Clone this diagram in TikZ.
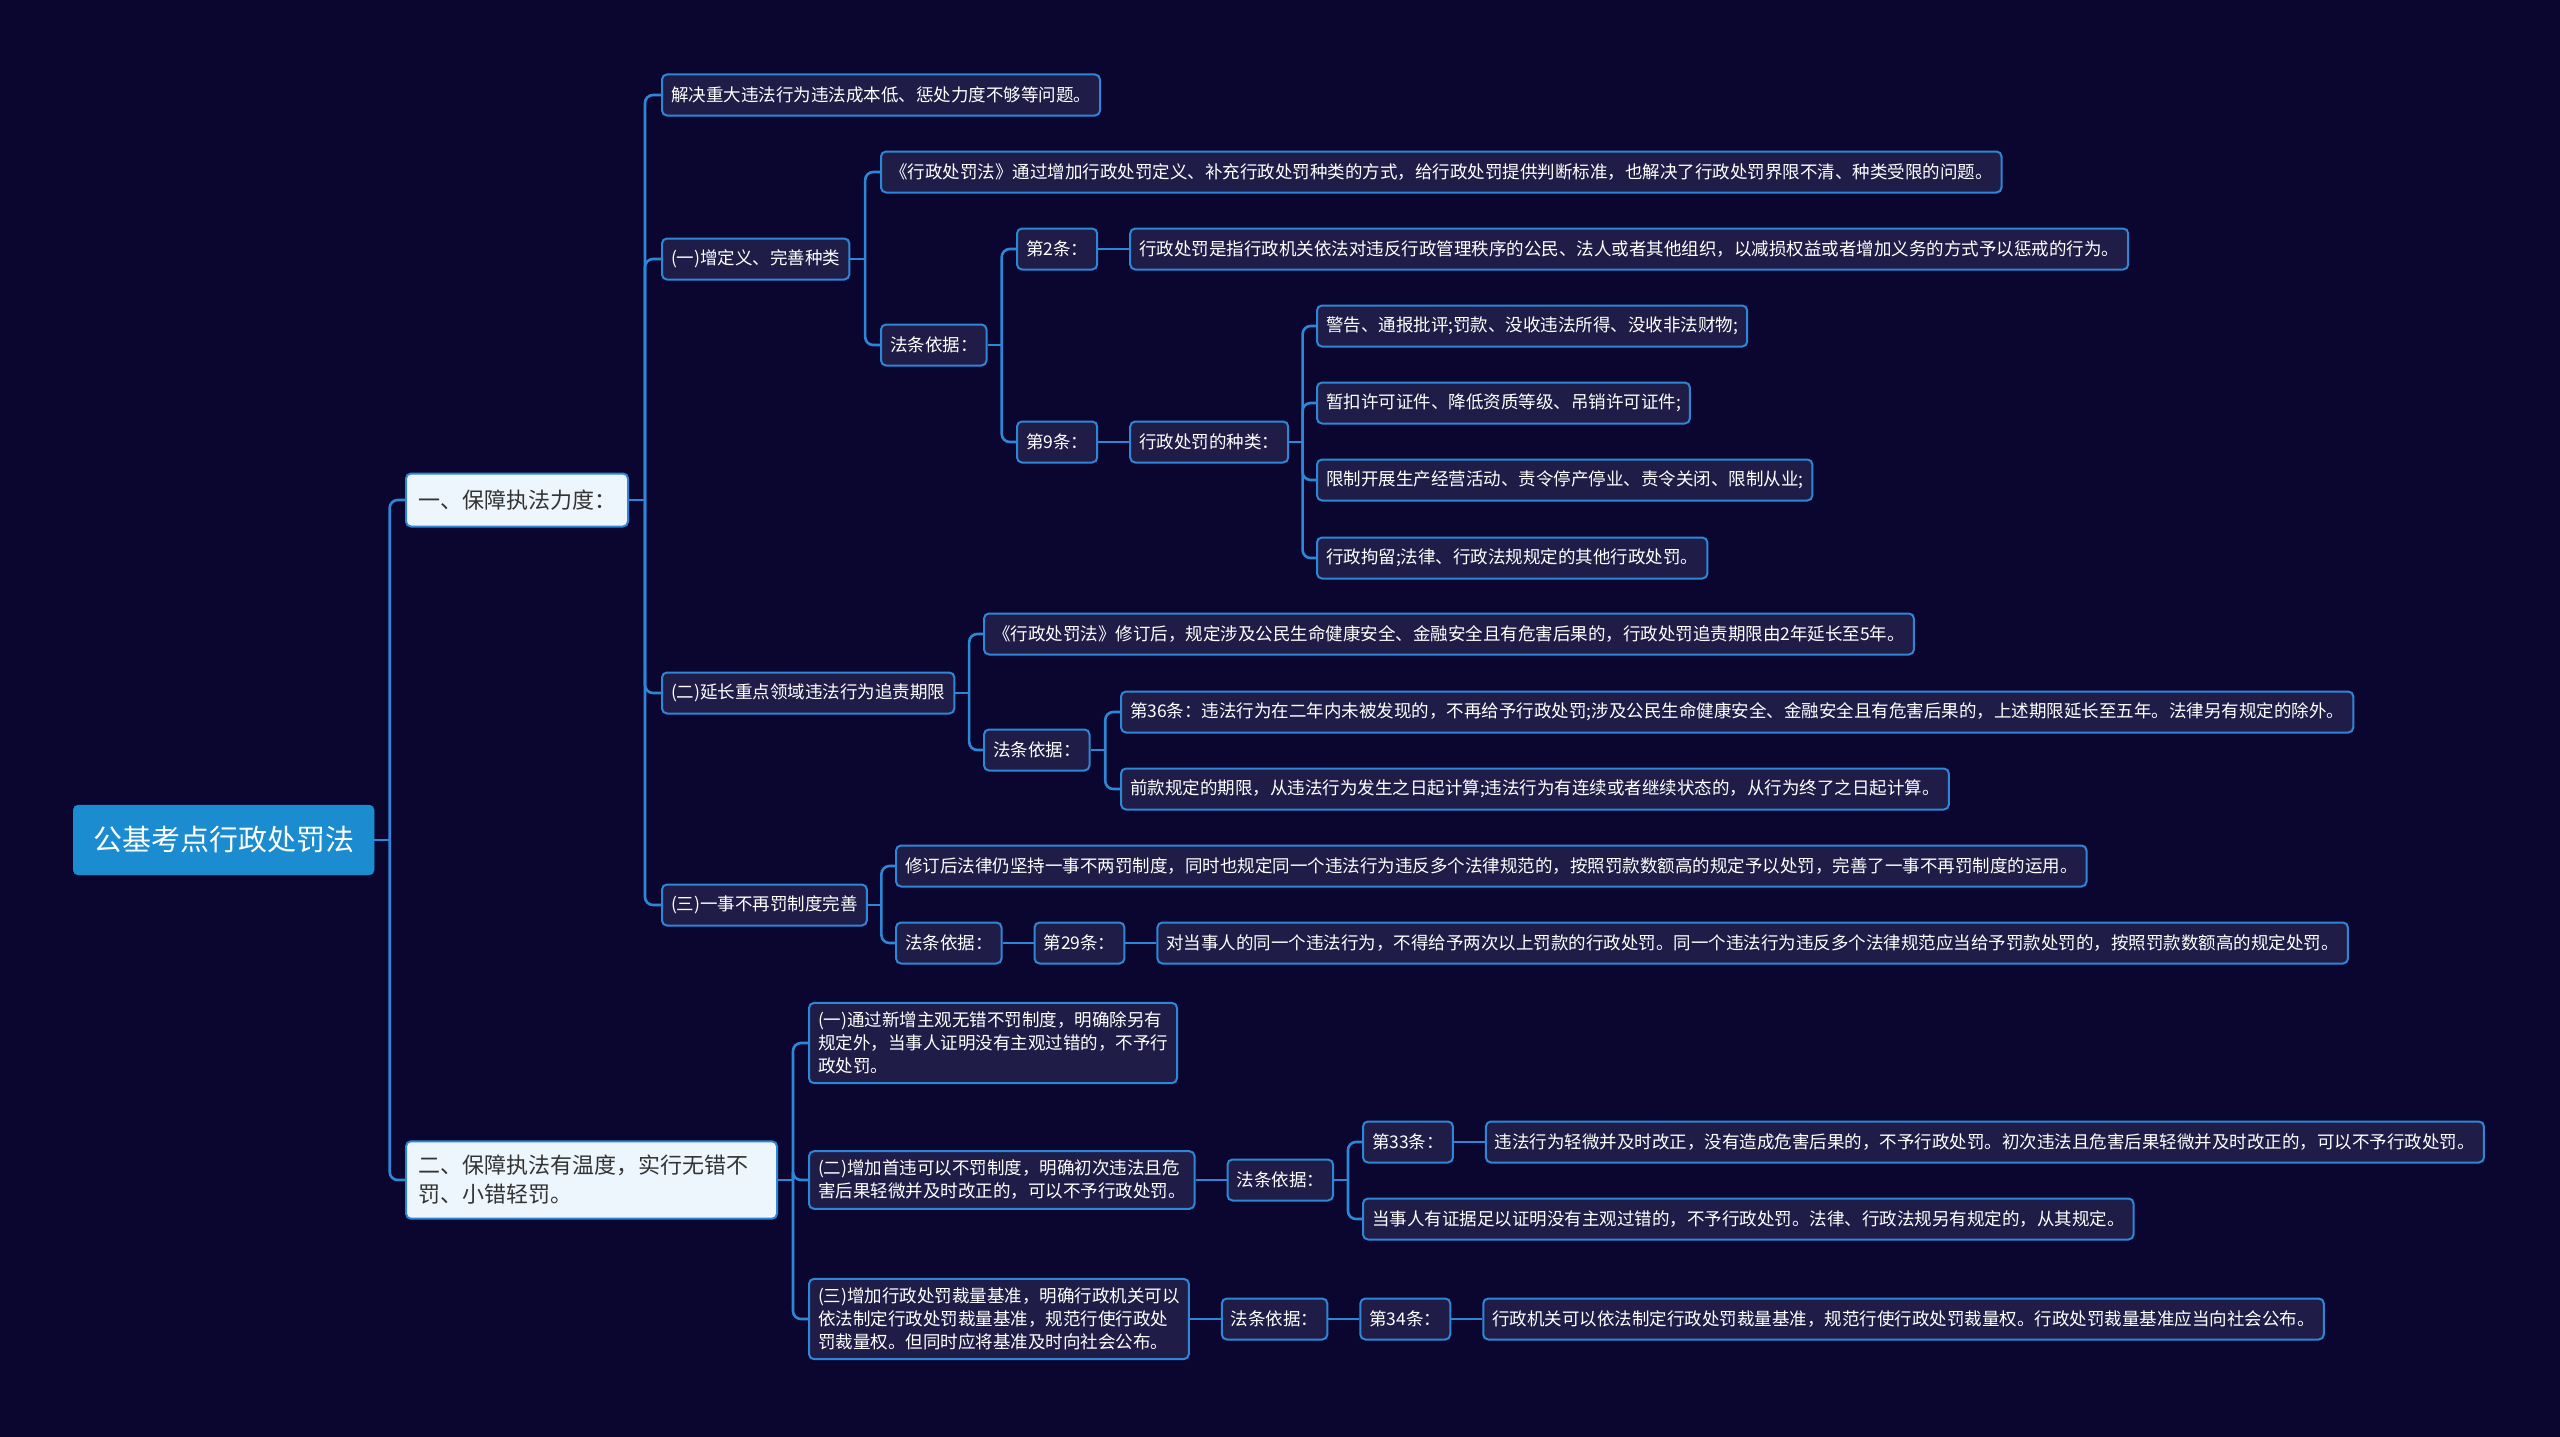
\documentclass[tikz,border=0pt]{standalone}
\usepackage{fontspec}
\setmainfont{Noto Sans CJK SC}
\usetikzlibrary{positioning,calc}
\definecolor{bgnavy}{HTML}{0A0630}
\definecolor{boxfill}{HTML}{1F1D47}
\definecolor{mapblue}{HTML}{2D86D6}
\definecolor{rootblue}{HTML}{1A8CCF}
\definecolor{paleblue}{HTML}{EEF6FD}
\definecolor{inkgray}{HTML}{333333}
\tikzset{
  rootbox/.style={anchor=west,fill=rootblue,draw=rootblue,rounded corners=5pt,text=white,
    minimum width=301pt,minimum height=70pt,font=\fontsize{29}{34}\selectfont},
  mainbox/.style={anchor=west,fill=paleblue,draw=mapblue,line width=2pt,rounded corners=5pt,
    text=inkgray,align=left,inner xsep=12pt,inner ysep=14pt,minimum height=53pt,
    font=\fontsize{22}{29}\selectfont},
  leaf/.style={anchor=west,fill=boxfill,draw=mapblue,line width=2pt,rounded corners=5pt,
    text=white,align=left,inner xsep=9pt,inner ysep=9pt,minimum height=41pt,
    font=\fontsize{17.5}{23}\selectfont},
  link/.style={draw=mapblue,line width=2.6pt}
}
% stub from a parent to the spine, then one rounded branch per child
\newcommand{\mapstub}[2]{%
  \coordinate (#1-j) at ($(#1.east)!0.5!(#2.west |- #1.east)$);
  \draw[link] (#1.east) -- (#1-j);}
\newcommand{\mapbranch}[2]{\draw[link,rounded corners=8pt] (#1-j) |- (#2.west);}

\begin{document}
\begin{tikzpicture}[x=1pt,y=-1pt]
\fill[bgnavy] (0,0) rectangle (2560,1437);

\node[rootbox] (root) at (73,840) {公基考点行政处罚法};
\node[mainbox] (force) at (405,500) {一、保障执法力度：};
\node[mainbox, text width=347pt] (warm) at (405,1180) {二、保障执法有温度，实行无错不\\罚、小错轻罚。};

% branch one
\node[leaf] (cost) at (661,95) {解决重大违法行为违法成本低、惩处力度不够等问题。};
\node[leaf] (define) at (661,259) {(一)增定义、完善种类};
\node[leaf] (extend) at (661,693) {(二)延长重点领域违法行为追责期限};
\node[leaf] (once) at (661,905) {(三)一事不再罚制度完善};

\node[leaf] (defnote) at (880,172) {《行政处罚法》通过增加行政处罚定义、补充行政处罚种类的方式，给行政处罚提供判断标准，也解决了行政处罚界限不清、种类受限的问题。};
\node[leaf] (defbasis) at (880,345) {法条依据：};
\node[leaf] (art2) at (1016,249) {第2条：};
\node[leaf, right=31pt of art2] (art2text) {行政处罚是指行政机关依法对违反行政管理秩序的公民、法人或者其他组织，以减损权益或者增加义务的方式予以惩戒的行为。};
\node[leaf] (art9) at (1016,442) {第9条：};
\node[leaf, right=31pt of art9] (art9kind) {行政处罚的种类：};
\node[leaf] (kind1) at (1316,326) {警告、通报批评;罚款、没收违法所得、没收非法财物;};
\node[leaf] (kind2) at (1316,403) {暂扣许可证件、降低资质等级、吊销许可证件;};
\node[leaf] (kind3) at (1316,480) {限制开展生产经营活动、责令停产停业、责令关闭、限制从业;};
\node[leaf] (kind4) at (1316,558) {行政拘留;法律、行政法规规定的其他行政处罚。};

\node[leaf] (extnote) at (983,634) {《行政处罚法》修订后，规定涉及公民生命健康安全、金融安全且有危害后果的，行政处罚追责期限由2年延长至5年。};
\node[leaf] (extbasis) at (983,750) {法条依据：};
\node[leaf] (art36) at (1120,712) {第36条：违法行为在二年内未被发现的，不再给予行政处罚;涉及公民生命健康安全、金融安全且有危害后果的，上述期限延长至五年。法律另有规定的除外。};
\node[leaf] (artcount) at (1120,789) {前款规定的期限，从违法行为发生之日起计算;违法行为有连续或者继续状态的，从行为终了之日起计算。};

\node[leaf] (oncenote) at (895,866) {修订后法律仍坚持一事不两罚制度，同时也规定同一个违法行为违反多个法律规范的，按照罚款数额高的规定予以处罚，完善了一事不再罚制度的运用。};
\node[leaf] (oncebasis) at (895,943) {法条依据：};
\node[leaf, right=31pt of oncebasis] (art29) {第29条：};
\node[leaf, right=31pt of art29] (art29text) {对当事人的同一个违法行为，不得给予两次以上罚款的行政处罚。同一个违法行为违反多个法律规范应当给予罚款处罚的，按照罚款数额高的规定处罚。};

% branch two
\node[leaf] (nofault) at (808,1043) {(一)通过新增主观无错不罚制度，明确除另有\\规定外，当事人证明没有主观过错的，不予行\\政处罚。};
\node[leaf] (firstfree) at (808,1180) {(二)增加首违可以不罚制度，明确初次违法且危\\害后果轻微并及时改正的，可以不予行政处罚。};
\node[leaf, right=31pt of firstfree] (firstbasis) {法条依据：};
\node[leaf] (art33) at (1362,1142) {第33条：};
\node[leaf, right=31pt of art33] (art33text) {违法行为轻微并及时改正，没有造成危害后果的，不予行政处罚。初次违法且危害后果轻微并及时改正的，可以不予行政处罚。};
\node[leaf] (proof) at (1362,1219) {当事人有证据足以证明没有主观过错的，不予行政处罚。法律、行政法规另有规定的，从其规定。};
\node[leaf] (scale) at (808,1319) {(三)增加行政处罚裁量基准，明确行政机关可以\\依法制定行政处罚裁量基准，规范行使行政处\\罚裁量权。但同时应将基准及时向社会公布。};
\node[leaf, right=31pt of scale] (scalebasis) {法条依据：};
\node[leaf, right=31pt of scalebasis] (art34) {第34条：};
\node[leaf, right=31pt of art34] (art34text) {行政机关可以依法制定行政处罚裁量基准，规范行使行政处罚裁量权。行政处罚裁量基准应当向社会公布。};

% connectors
\mapstub{root}{force}
\mapbranch{root}{force} \mapbranch{root}{warm}
\mapstub{force}{cost}
\foreach \c in {cost,define,extend,once} {\mapbranch{force}{\c}}
\mapstub{define}{defnote}
\mapbranch{define}{defnote} \mapbranch{define}{defbasis}
\mapstub{defbasis}{art2}
\mapbranch{defbasis}{art2} \mapbranch{defbasis}{art9}
\draw[link] (art2.east) -- (art2text.west);
\draw[link] (art9.east) -- (art9kind.west);
\mapstub{art9kind}{kind1}
\foreach \c in {kind1,kind2,kind3,kind4} {\mapbranch{art9kind}{\c}}
\mapstub{extend}{extnote}
\mapbranch{extend}{extnote} \mapbranch{extend}{extbasis}
\mapstub{extbasis}{art36}
\mapbranch{extbasis}{art36} \mapbranch{extbasis}{artcount}
\mapstub{once}{oncenote}
\mapbranch{once}{oncenote} \mapbranch{once}{oncebasis}
\draw[link] (oncebasis.east) -- (art29.west);
\draw[link] (art29.east) -- (art29text.west);
\mapstub{warm}{nofault}
\foreach \c in {nofault,firstfree,scale} {\mapbranch{warm}{\c}}
\draw[link] (firstfree.east) -- (firstbasis.west);
\mapstub{firstbasis}{art33}
\mapbranch{firstbasis}{art33} \mapbranch{firstbasis}{proof}
\draw[link] (art33.east) -- (art33text.west);
\draw[link] (scale.east) -- (scalebasis.west);
\draw[link] (scalebasis.east) -- (art34.west);
\draw[link] (art34.east) -- (art34text.west);
\end{tikzpicture}
\end{document}
